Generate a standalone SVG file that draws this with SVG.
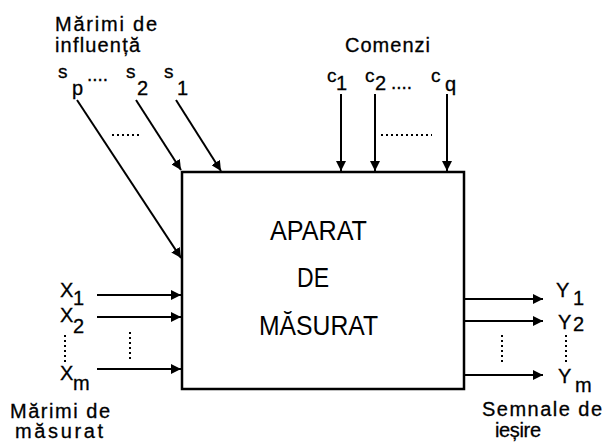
<svg xmlns="http://www.w3.org/2000/svg" width="603" height="443" viewBox="0 0 603 443">
<style>
text{font-family:"Liberation Sans",Arial,sans-serif;fill:#000}
.lbl{font-size:20px;stroke:#000;stroke-width:0.3}
.sm{font-size:19px;stroke:#000;stroke-width:0.3}
.big{font-size:27px}
.ln{stroke:#000;stroke-width:2;fill:none}
.dot{stroke:#000;stroke-width:2;stroke-dasharray:2 3;fill:none}
</style>
<defs>
<marker id="ah" viewBox="0 0 10 10" refX="10" refY="5" markerWidth="10" markerHeight="10" markerUnits="userSpaceOnUse" orient="auto">
<path d="M0,0 L10,5 L0,10 z" fill="#000"/>
</marker>
</defs>
<rect width="603" height="443" fill="#fff"/>
<g id="box">
<rect x="182" y="172" width="282" height="217" fill="#fff" stroke="#000" stroke-width="2.5"/>
<text class="big" x="270" y="240" textLength="97" lengthAdjust="spacingAndGlyphs">APARAT</text>
<text class="big" x="297" y="287" textLength="32" lengthAdjust="spacingAndGlyphs">DE</text>
<text class="big" x="259" y="335" textLength="119" lengthAdjust="spacingAndGlyphs">MĂSURAT</text>
</g>
<g id="connectors">
<line class="ln" x1="176" y1="100" x2="221" y2="171" marker-end="url(#ah)"/>
<line class="ln" x1="136" y1="100" x2="181" y2="170" marker-end="url(#ah)"/>
<line class="ln" x1="77" y1="100" x2="181" y2="258" marker-end="url(#ah)"/>
<line class="ln" x1="341" y1="94" x2="341" y2="171" marker-end="url(#ah)"/>
<line class="ln" x1="375" y1="94" x2="375" y2="171" marker-end="url(#ah)"/>
<line class="ln" x1="447" y1="94" x2="447" y2="171" marker-end="url(#ah)"/>
<line class="ln" x1="97" y1="295" x2="181" y2="295" marker-end="url(#ah)"/>
<line class="ln" x1="97" y1="317" x2="181" y2="317" marker-end="url(#ah)"/>
<line class="ln" x1="97" y1="369" x2="181" y2="369" marker-end="url(#ah)"/>
<line class="ln" x1="465" y1="299" x2="543" y2="299" marker-end="url(#ah)"/>
<line class="ln" x1="465" y1="321" x2="543" y2="321" marker-end="url(#ah)"/>
<line class="ln" x1="465" y1="375" x2="543" y2="375" marker-end="url(#ah)"/>
<line class="dot" x1="112" y1="135" x2="141" y2="135"/>
<line class="dot" x1="381" y1="135" x2="432" y2="135"/>
<line class="dot" x1="65" y1="335" x2="65" y2="363"/>
<line class="dot" x1="130" y1="332" x2="130" y2="360"/>
<line class="dot" x1="502" y1="335" x2="502" y2="363"/>
<line class="dot" x1="566" y1="335" x2="566" y2="363"/>
</g>
<g id="influence-labels">
<text class="lbl" x="55" y="31" textLength="102" lengthAdjust="spacing">Mărimi  de</text>
<text class="lbl" x="55" y="52" textLength="85" lengthAdjust="spacing">influență</text>
<text class="sm" x="58" y="78">s</text><text class="lbl" x="72" y="95">p</text><text class="sm" x="87" y="81">....</text>
<text class="sm" x="126" y="78">s</text><text class="lbl" x="137" y="95">2</text>
<text class="sm" x="164" y="78">s</text><text class="lbl" x="177" y="95">1</text>
</g>
<g id="command-labels">
<text class="lbl" x="345" y="52" textLength="85" lengthAdjust="spacing">Comenzi</text>
<text class="sm" x="327" y="82">c</text><text class="lbl" x="336" y="90">1</text>
<text class="sm" x="365" y="82">c</text><text class="lbl" x="375" y="90">2</text><text class="sm" x="391" y="89">....</text>
<text class="sm" x="431" y="82">c</text><text class="lbl" x="445" y="91">q</text>
</g>
<g id="input-labels">
<text class="lbl" x="60" y="297">X</text><text class="lbl" x="73" y="305">1</text>
<text class="lbl" x="60" y="322">X</text><text class="lbl" x="73" y="333">2</text>
<text class="lbl" x="60" y="380">X</text><text class="lbl" x="73" y="390">m</text>
<text class="lbl" x="10" y="418" textLength="100" lengthAdjust="spacing">Mărimi  de</text>
<text class="lbl" x="15" y="438" textLength="88" lengthAdjust="spacing">măsurat</text>
</g>
<g id="output-labels">
<text class="lbl" x="556" y="297">Y</text><text class="lbl" x="573" y="305">1</text>
<text class="lbl" x="558" y="329">Y</text><text class="lbl" x="573" y="331">2</text>
<text class="lbl" x="558" y="383">Y</text><text class="lbl" x="575" y="392">m</text>
<text class="lbl" x="482" y="416" textLength="120" lengthAdjust="spacing">Semnale  de</text>
<text class="lbl" x="495" y="437" textLength="46" lengthAdjust="spacing">ieșire</text>
</g>
</svg>
